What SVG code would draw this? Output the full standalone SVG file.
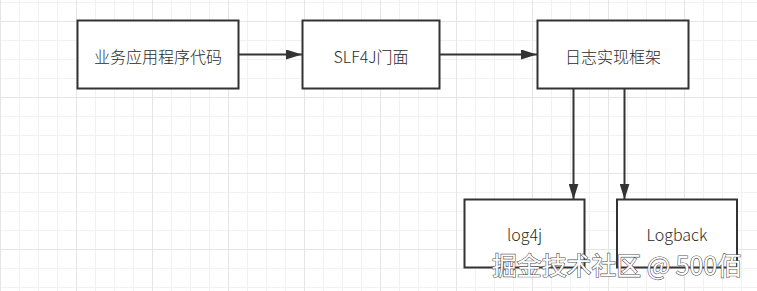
<svg xmlns="http://www.w3.org/2000/svg" width="757" height="291" viewBox="0 0 757 291">
  <style>
    .box { fill: #ffffff; stroke: #333333; stroke-width: 2; }
    .lbl { font-family: "Noto Sans CJK SC", "Noto Sans", "Liberation Sans", sans-serif; font-size: 16px; font-weight: 300; fill: #2a2a2a; text-anchor: middle; }
    .edge { stroke: #333333; stroke-width: 2; fill: none; }
    .wm { font-family: "Noto Sans CJK SC", "Noto Sans", sans-serif; font-size: 25px; fill: #ffffff; stroke: #555555; stroke-width: 1.2; paint-order: stroke; }
  </style>
  <defs>
    <pattern id="minor" width="19" height="19" patternUnits="userSpaceOnUse" x="0" y="2">
      <path d="M0.5 0 V19 M0 0.5 H19" stroke="#f1f1f1" stroke-width="1" fill="none"/>
    </pattern>
    <pattern id="major" width="76" height="76" patternUnits="userSpaceOnUse" x="0" y="21">
      <path d="M0.5 0 V76 M0 0.5 H76" stroke="#e5e5e5" stroke-width="1" fill="none"/>
    </pattern>
    <marker id="arrow" viewBox="0 0 16 10" refX="16" refY="5" markerWidth="16" markerHeight="10" markerUnits="userSpaceOnUse" orient="auto">
      <path d="M0 0 L16 5 L0 10 Z" fill="#333333"/>
    </marker>
  </defs>
  <rect width="757" height="291" fill="#ffffff"/>
  <rect width="757" height="291" fill="url(#minor)"/>
  <rect width="757" height="291" fill="url(#major)"/>

  <g id="connectors">
    <line class="edge" x1="239" y1="54.5" x2="302" y2="54.5" marker-end="url(#arrow)"/>
    <line class="edge" x1="439" y1="54.5" x2="537" y2="54.5" marker-end="url(#arrow)"/>
    <line class="edge" x1="573.5" y1="88.5" x2="573.5" y2="199.5" marker-end="url(#arrow)"/>
    <line class="edge" x1="624.5" y1="88.5" x2="624.5" y2="199.5" marker-end="url(#arrow)"/>
  </g>

  <g id="node-app">
    <rect class="box" x="77.5" y="20.5" width="161" height="68"/>
    <text class="lbl" x="158" y="62.5">业务应用程序代码</text>
  </g>
  <g id="node-slf4j">
    <rect class="box" x="302.5" y="20.5" width="137" height="68"/>
    <text class="lbl" x="371" y="62.5">SLF4J门面</text>
  </g>
  <g id="node-impl">
    <rect class="box" x="537.5" y="20.5" width="151" height="68"/>
    <text class="lbl" x="613" y="62.5">日志实现框架</text>
  </g>
  <g id="node-log4j">
    <rect class="box" x="464.5" y="199.5" width="120" height="68"/>
    <text class="lbl" x="524.5" y="240.5">log4j</text>
  </g>
  <g id="node-logback">
    <rect class="box" x="617" y="199.5" width="120" height="68"/>
    <text class="lbl" x="677" y="240.5">Logback</text>
  </g>

  <text class="wm" x="492" y="274.5" textLength="250" lengthAdjust="spacingAndGlyphs">掘金技术社区 @ 500佰</text>
</svg>
